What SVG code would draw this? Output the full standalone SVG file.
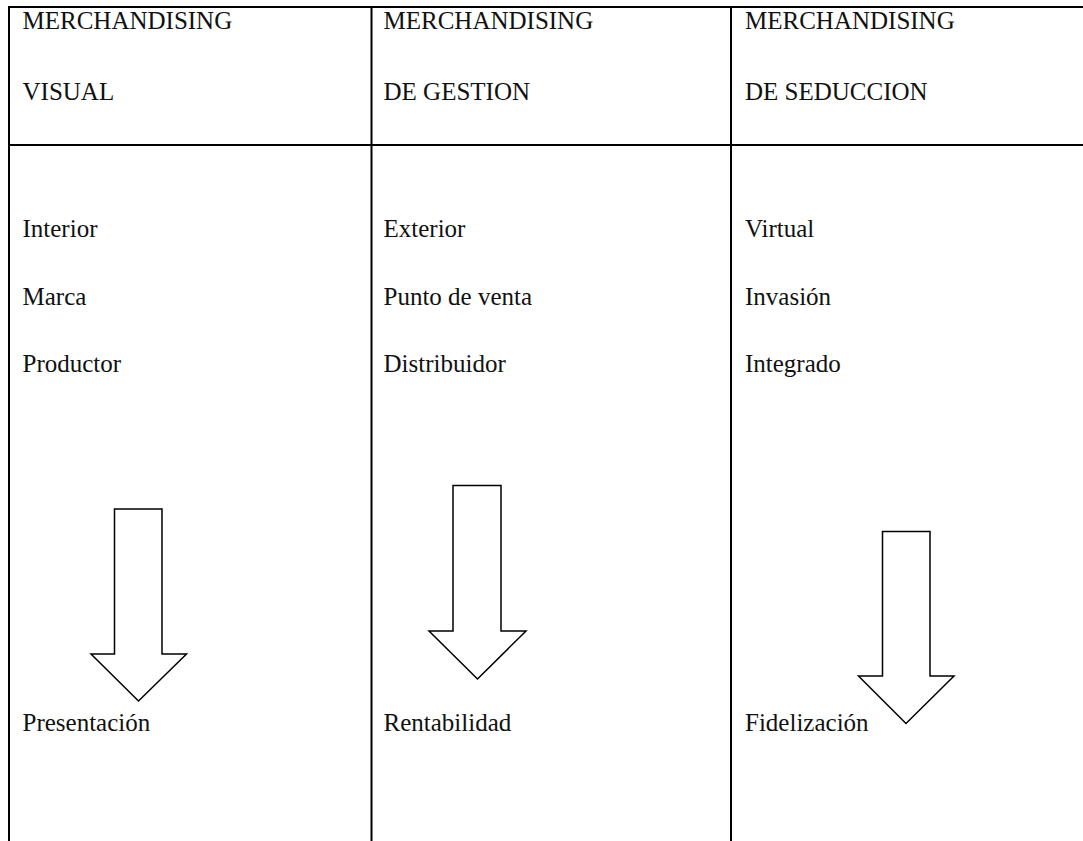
<svg xmlns="http://www.w3.org/2000/svg" width="1083" height="841" viewBox="0 0 1083 841">
  <style>
    .grid { stroke: #000; stroke-width: 2; fill: none; }
    .arrow { stroke: #000; stroke-width: 1.5; fill: #fff; stroke-linejoin: miter; }
    text { font-family: "Liberation Serif", "Times New Roman", serif; font-size: 25px; fill: #111; }
  </style>
  <rect width="1083" height="841" fill="#fff"/>

  <!-- table rules -->
  <g id="table">
    <line class="grid" x1="8" y1="7" x2="1083" y2="7"/>
    <line class="grid" x1="8" y1="145" x2="1083" y2="145"/>
    <line class="grid" x1="9" y1="6" x2="9" y2="841"/>
    <line class="grid" x1="371.5" y1="6" x2="371.5" y2="841"/>
    <line class="grid" x1="731" y1="6" x2="731" y2="841"/>
  </g>

  <!-- column 1 -->
  <g id="col-visual">
    <text x="22.5" y="29">MERCHANDISING</text>
    <text x="22.5" y="100">VISUAL</text>
    <text x="22.5" y="237">Interior</text>
    <text x="22.5" y="305">Marca</text>
    <text x="22.5" y="372">Productor</text>
    <text x="22.5" y="731">Presentación</text>
  </g>

  <!-- column 2 -->
  <g id="col-gestion">
    <text x="383.5" y="29">MERCHANDISING</text>
    <text x="383.5" y="100">DE GESTION</text>
    <text x="383.5" y="237">Exterior</text>
    <text x="383.5" y="305">Punto de venta</text>
    <text x="383.5" y="372">Distribuidor</text>
    <text x="383.5" y="731">Rentabilidad</text>
  </g>

  <!-- column 3 -->
  <g id="col-seduccion">
    <text x="745" y="29">MERCHANDISING</text>
    <text x="745" y="100">DE SEDUCCION</text>
    <text x="745" y="237">Virtual</text>
    <text x="745" y="305">Invasión</text>
    <text x="745" y="372">Integrado</text>
    <text x="745" y="731">Fidelización</text>
  </g>

  <!-- block arrows -->
  <g id="connectors">
    <polygon id="arrow-visual" class="arrow" points="114.5,509 162,509 162,654 186.5,654 138.5,701 91,654 114.5,654"/>
    <polygon id="arrow-gestion" class="arrow" points="453,485.5 501,485.5 501,631 526,631 477.5,679 429,631 453,631"/>
    <polygon id="arrow-seduccion" class="arrow" points="882.5,531.5 930,531.5 930,676 954,676 906,723.5 858.5,676 882.5,676"/>
  </g>
</svg>
